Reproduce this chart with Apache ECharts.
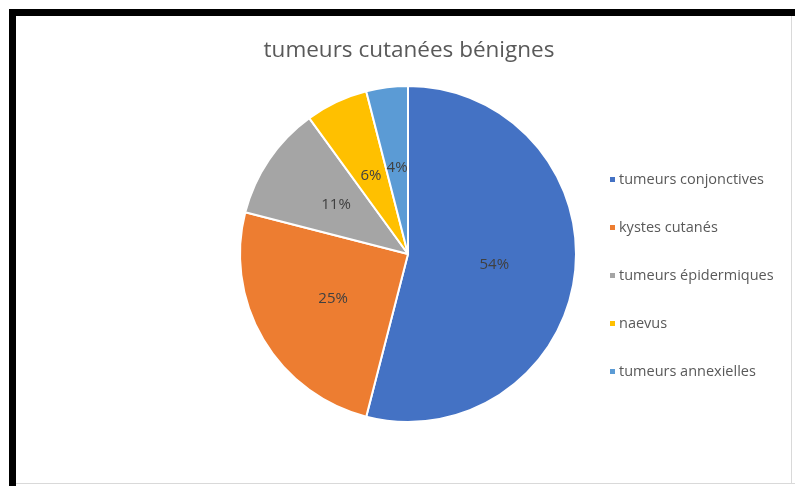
<!DOCTYPE html>
<html>
<head>
<meta charset="utf-8">
<script src="https://cdn.jsdelivr.net/npm/echarts@6/dist/echarts.min.js"></script>
<style>
  html, body { margin: 0; padding: 0; background: #fff; }
  #chart { width: 795px; height: 486px; }
</style>
</head>
<body>
<div id="chart"></div>
<script>
// Benign skin tumour categories and their shares (%)
const categories = ['tumeurs conjonctives', 'kystes cutanés', 'tumeurs épidermiques', 'naevus', 'tumeurs annexielles'];
const shares = [54, 25, 11, 6, 4];
const palette = ['#4472C4', '#ED7D31', '#A5A5A5', '#FFC000', '#5B9BD5'];
const titleText = 'tumeurs cutanées bénignes';

const chart = echarts.init(document.getElementById('chart'), null, { renderer: 'canvas' });

const data = categories.map((name, i) => ({ name, value: shares[i], itemStyle: { color: palette[i] } }));

chart.setOption({
  animation: false,
  backgroundColor: '#ffffff',
  title: {
    text: titleText,
    left: 404,
    textAlign: 'center',
    top: 34,
    textStyle: { fontFamily: 'Open Sans', fontSize: 22.5, fontWeight: 'normal', color: '#595959' }
  },
  legend: {
    orient: 'vertical',
    left: 603,
    top: 167,
    itemWidth: 7,
    itemHeight: 7,
    itemGap: 33,
    icon: 'rect',
    data: categories,
    textStyle: { fontFamily: 'Open Sans', fontSize: 14.5, color: '#595959', padding: [0, 0, 0, -2] }
  },
  graphic: [
    { type: 'rect', shape: { x: 9, y: 9, width: 786, height: 7 }, style: { fill: '#000' } },
    { type: 'rect', shape: { x: 9, y: 9, width: 7, height: 477 }, style: { fill: '#000' } },
    { type: 'rect', shape: { x: 16, y: 483, width: 779, height: 1 }, style: { fill: '#d9d9d9' } },
    { type: 'rect', shape: { x: 791, y: 16, width: 1, height: 468 }, style: { fill: '#d9d9d9' } }
  ],
  series: [{
    type: 'pie',
    center: [408, 254],
    radius: [0, 168],
    startAngle: 90,
    clockwise: true,
    data,
    itemStyle: { borderColor: '#ffffff', borderWidth: 2 },
    label: {
      position: 'inside',
      formatter: p => p.value + '%',
      fontFamily: 'Open Sans',
      fontSize: 15,
      color: '#404040'
    },
    labelLayout: { hideOverlap: false },
    labelLine: { show: false },
    emphasis: { disabled: true }
  }]
});
</script>
</body>
</html>
